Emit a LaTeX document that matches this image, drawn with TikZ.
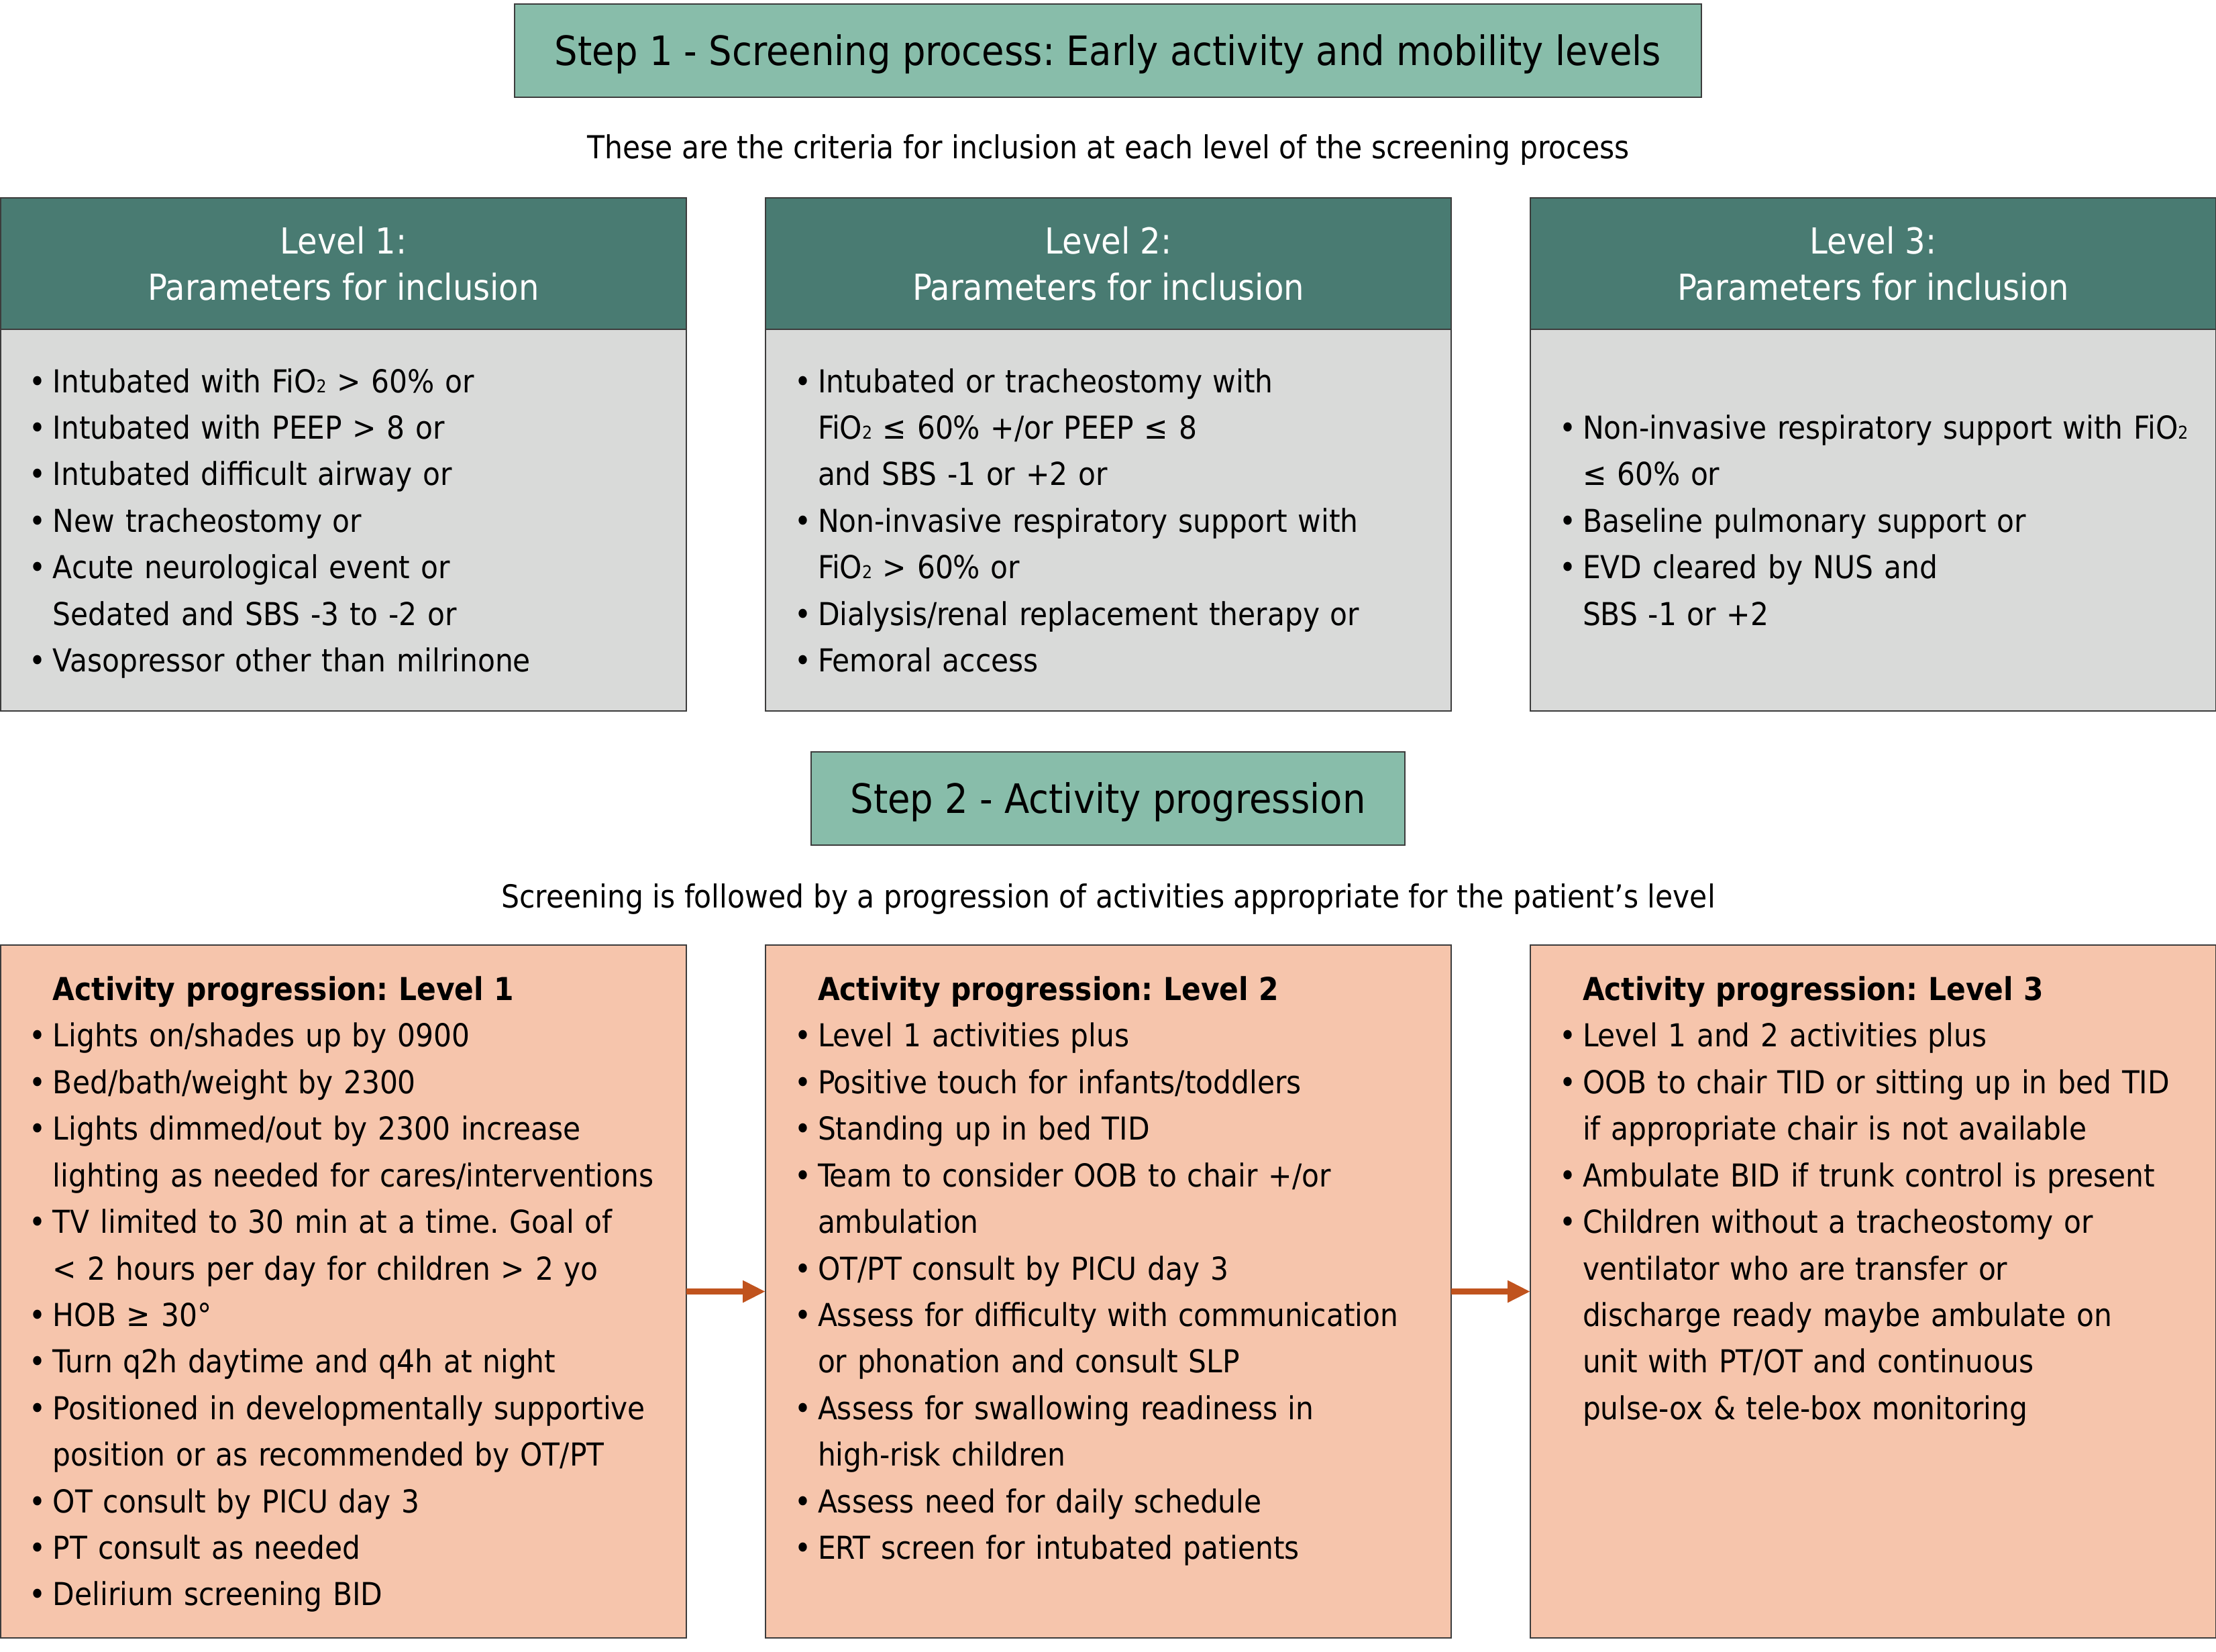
\documentclass[tikz,border=0pt]{standalone}
\usepackage{fontspec}
\setmainfont{DejaVu Sans Condensed}[BoldFont={DejaVu Sans Condensed Bold}]
\usepackage{xcolor}
\usetikzlibrary{positioning, arrows.meta}
\frenchspacing

\definecolor{stepgreen}{HTML}{88BDAA}
\definecolor{headteal}{HTML}{497B72}
\definecolor{bodygray}{HTML}{D9DAD9}
\definecolor{actsalmon}{HTML}{F6C5AC}
\definecolor{flowrust}{HTML}{C0531E}
\definecolor{edgegray}{HTML}{3C3C3C}

\newcommand{\linestrut}{\rule[-3.7pt]{0pt}{17.5pt}}
\newcommand{\itm}[1]{\mbox{\linestrut\makebox[0.35cm][l]{\textbullet}#1}}
\newcommand{\cnt}[1]{\mbox{\linestrut\hspace*{0.35cm}#1}}
\newcommand{\fiotwo}{FiO{\fontsize{7.5}{8}\selectfont 2}}

\begin{document}
\begin{tikzpicture}[
        every node/.style={outer sep=0pt},
        stepbox/.style={rectangle, draw=edgegray, line width=0.6pt, fill=stepgreen, minimum height=1.39cm, text height=16.5pt, text depth=4pt, font=\fontsize{17.2}{20}\selectfont},
        note/.style={font=\fontsize{13.45}{16}\selectfont},
        levelhead/.style={rectangle, draw=edgegray, line width=0.6pt, fill=headteal, text=white, minimum width=10.22cm, minimum height=1.96cm, align=center, font=\fontsize{15.2}{19.75}\selectfont},
        levelbody/.style={rectangle, draw=edgegray, line width=0.6pt, fill=bodygray, text width=9.36cm, inner xsep=0.43cm, minimum height=5.69cm, align=left, font=\fontsize{13.4}{19.75}\selectfont},
        actbox/.style={rectangle, draw=edgegray, line width=0.6pt, fill=actsalmon, minimum width=10.22cm, minimum height=10.33cm},
        acttext/.style={inner sep=0pt, text width=9.5cm, align=left, anchor=north west, font=\fontsize{13.4}{19.75}\selectfont},
        flow/.style={-{Triangle[length=0.34cm, width=0.31cm]}, line width=2.5pt, draw=flowrust}
    ]
    \useasboundingbox (0,0) rectangle (33.03,-24.62);

    % Step 1
    \node[stepbox, minimum width=17.69cm] (step1) at (16.515,-0.755) {Step 1 - Screening process: Early activity and mobility levels};
    \node[note] (crit) at (16.52,-2.23) {These are the criteria for inclusion at each level of the screening process};

    % Level headers
    \node[levelhead] (head1) at (5.12,-3.93) {Level 1:\\Parameters for inclusion};
    \node[levelhead, right=1.18cm of head1] (head2) {Level 2:\\Parameters for inclusion};
    \node[levelhead, right=1.18cm of head2] (head3) {Level 3:\\Parameters for inclusion};

    % Parameters for inclusion
    \node[levelbody, below=0pt of head1] (body1) {%
        \itm{Intubated with \fiotwo{} > 60\% or}\\
        \itm{Intubated with PEEP > 8 or}\\
        \itm{Intubated difficult airway or}\\
        \itm{New tracheostomy or}\\
        \itm{Acute neurological event or}\\
        \cnt{Sedated and SBS -3 to -2 or}\\
        \itm{Vasopressor other than milrinone}};
    \node[levelbody, below=0pt of head2] (body2) {%
        \itm{Intubated or tracheostomy with}\\
        \cnt{\fiotwo{} ≤ 60\% +/or PEEP ≤ 8}\\
        \cnt{and SBS -1 or +2 or}\\
        \itm{Non-invasive respiratory support with}\\
        \cnt{\fiotwo{} > 60\% or}\\
        \itm{Dialysis/renal replacement therapy or}\\
        \itm{Femoral access}};
    \node[levelbody, below=0pt of head3] (body3) {%
        \itm{Non-invasive respiratory support with \fiotwo}\\
        \cnt{≤ 60\% or}\\
        \itm{Baseline pulmonary support or}\\
        \itm{EVD cleared by NUS and}\\
        \cnt{SBS -1 or +2}};

    % Step 2
    \node[stepbox, minimum width=8.85cm] (step2) at (16.515,-11.905) {Step 2 - Activity progression};
    \node[note] (follow) at (16.52,-13.40) {Screening is followed by a progression of activities appropriate for the patient’s level};

    % Activity boxes
    \node[actbox] (act1) at (5.12,-19.255) {};
    \node[actbox, right=1.18cm of act1] (act2) {};
    \node[actbox, right=1.18cm of act2] (act3) {};

    \node[acttext] (list1) at ([xshift=0.43cm, yshift=-0.34cm]act1.north west) {%
        \cnt{\textbf{Activity progression: Level 1}}\\
        \itm{Lights on/shades up by 0900}\\
        \itm{Bed/bath/weight by 2300}\\
        \itm{Lights dimmed/out by 2300 increase}\\
        \cnt{lighting as needed for cares/interventions}\\
        \itm{TV limited to 30 min at a time. Goal of}\\
        \cnt{< 2 hours per day for children > 2 yo}\\
        \itm{HOB ≥ 30°}\\
        \itm{Turn q2h daytime and q4h at night}\\
        \itm{Positioned in developmentally supportive}\\
        \cnt{position or as recommended by OT/PT}\\
        \itm{OT consult by PICU day 3}\\
        \itm{PT consult as needed}\\
        \itm{Delirium screening BID}};
    \node[acttext] (list2) at ([xshift=0.43cm, yshift=-0.34cm]act2.north west) {%
        \cnt{\textbf{Activity progression: Level 2}}\\
        \itm{Level 1 activities plus}\\
        \itm{Positive touch for infants/toddlers}\\
        \itm{Standing up in bed TID}\\
        \itm{Team to consider OOB to chair +/or}\\
        \cnt{ambulation}\\
        \itm{OT/PT consult by PICU day 3}\\
        \itm{Assess for difficulty with communication}\\
        \cnt{or phonation and consult SLP}\\
        \itm{Assess for swallowing readiness in}\\
        \cnt{high-risk children}\\
        \itm{Assess need for daily schedule}\\
        \itm{ERT screen for intubated patients}};
    \node[acttext] (list3) at ([xshift=0.43cm, yshift=-0.34cm]act3.north west) {%
        \cnt{\textbf{Activity progression: Level 3}}\\
        \itm{Level 1 and 2 activities plus}\\
        \itm{OOB to chair TID or sitting up in bed TID}\\
        \cnt{if appropriate chair is not available}\\
        \itm{Ambulate BID if trunk control is present}\\
        \itm{Children without a tracheostomy or}\\
        \cnt{ventilator who are transfer or}\\
        \cnt{discharge ready maybe ambulate on}\\
        \cnt{unit with PT/OT and continuous}\\
        \cnt{pulse-ox \& tele-box monitoring}};

    % Arrows
    \draw[flow] (act1) -- (act2);
    \draw[flow] (act2) -- (act3);

\end{tikzpicture}
\end{document}
